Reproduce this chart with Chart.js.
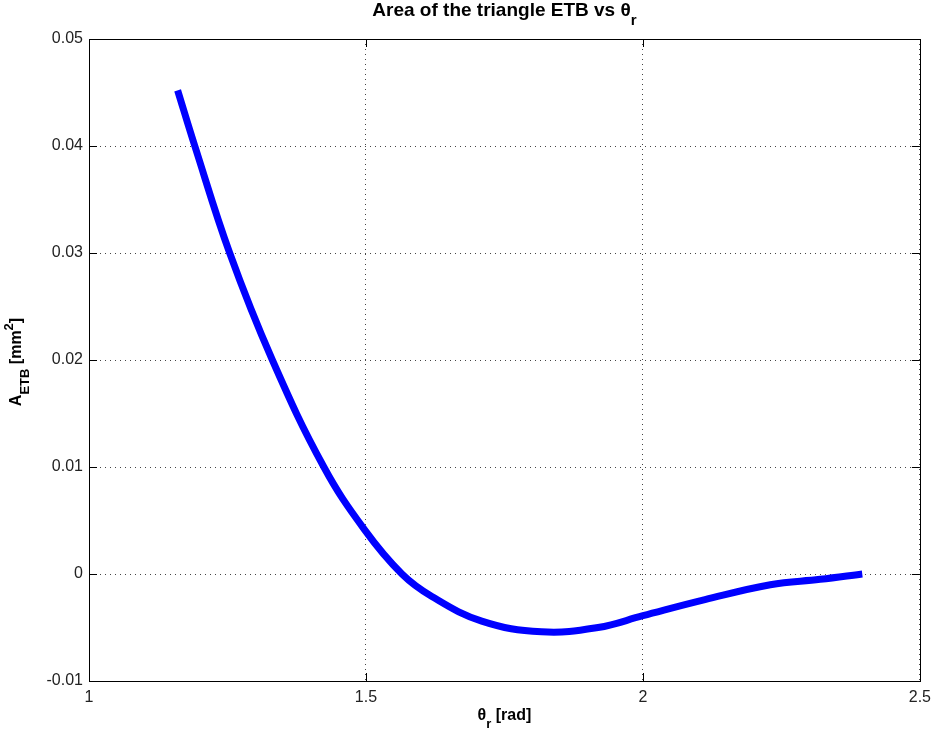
<!DOCTYPE html>
<html>
<head>
<meta charset="utf-8">
<script src="https://cdn.jsdelivr.net/npm/chart.js@4/dist/chart.umd.min.js"></script>
<style>
html,body{margin:0;padding:0;background:#fff;}
#wrap{width:938px;height:740px;}
</style>
</head>
<body>
<div id="wrap"><canvas id="c" width="938" height="740"></canvas></div>
<script>
const thetaR = [1.160, 1.191, 1.254, 1.331, 1.424, 1.498, 1.565, 1.619, 1.709, 1.817, 1.919, 2.000, 2.112, 2.230, 2.320, 2.396];
const areaETB = [0.0452, 0.0400, 0.0300, 0.0200, 0.0100, 0.0041, 0.0000, -0.0021, -0.0044, -0.0054, -0.0050, -0.0039, -0.0024, -0.0010, -0.0005, 0.0000];
const xTicks = [1, 1.5, 2, 2.5];
const yTicks = [-0.01, 0, 0.01, 0.02, 0.03, 0.04, 0.05];
const titleParts = [["Area of the triangle ETB vs \u03b8", 0], ["r", -1]];
const xLabelParts = [["\u03b8", 0], ["r", -1], [" [rad]", 0]];
const yLabelParts = [["A", 0], ["ETB", -1], [" [mm", 0], ["2", 1], ["]", 0]];

const FONT = '"Liberation Sans", Arial, Helvetica, sans-serif';

function drawParts(ctx, parts, size, bold, cx, cy) {
  const f = (s) => (bold ? 'bold ' : '') + s + 'px ' + FONT;
  let total = 0;
  const widths = parts.map(([t, m]) => {
    ctx.font = f(m === 0 ? size : Math.round(size * 0.8));
    const w = ctx.measureText(t).width;
    total += w;
    return w;
  });
  let x = cx - total / 2;
  ctx.textBaseline = 'middle';
  ctx.textAlign = 'left';
  parts.forEach(([t, m], i) => {
    ctx.font = f(m === 0 ? size : Math.round(size * 0.8));
    const dy = m === -1 ? size * 0.5 : (m === 1 ? -size * 0.45 : 0);
    ctx.fillText(t, x, cy + dy);
    x += widths[i];
  });
}

const deco = {
  id: 'deco',
  beforeDatasetsDraw(chart) {
    const {ctx, chartArea: a, scales: {x, y}} = chart;
    ctx.save();
    ctx.strokeStyle = '#000';
    ctx.lineWidth = 1;
    ctx.beginPath();
    xTicks.forEach(v => {
      const px = Math.round(x.getPixelForValue(v)) + 0.5;
      ctx.moveTo(px, a.bottom); ctx.lineTo(px, a.bottom - 8);
      ctx.moveTo(px, a.top); ctx.lineTo(px, a.top + 8);
    });
    yTicks.forEach(v => {
      const py = Math.round(y.getPixelForValue(v)) + 0.5;
      ctx.moveTo(a.left, py); ctx.lineTo(a.left + 8, py);
      ctx.moveTo(a.right, py); ctx.lineTo(a.right - 8, py);
    });
    ctx.stroke();
    ctx.restore();
  },
  afterDraw(chart) {
    const {ctx, chartArea: a} = chart;
    ctx.save();
    ctx.strokeStyle = '#000';
    ctx.lineWidth = 1;
    ctx.strokeRect(Math.round(a.left) + 0.5, Math.round(a.top) + 0.5, Math.round(a.right - a.left), Math.round(a.bottom - a.top));
    ctx.fillStyle = '#000';
    drawParts(ctx, titleParts, 19, true, (a.left + a.right) / 2, 11);
    drawParts(ctx, xLabelParts, 16, true, (a.left + a.right) / 2, 716);
    ctx.translate(17, 362);
    ctx.rotate(-Math.PI / 2);
    drawParts(ctx, yLabelParts, 16, true, 0, 0);
    ctx.restore();
  }
};

new Chart(document.getElementById('c'), {
  type: 'scatter',
  data: {
    datasets: [{
      data: thetaR.map((v, i) => ({x: v, y: areaETB[i]})),
      showLine: true,
      borderColor: '#0000ff',
      backgroundColor: '#0000ff',
      borderWidth: 7,
      pointRadius: 0,
      tension: 0.4,
      fill: false
    }]
  },
  options: {
    responsive: false,
    animation: false,
    devicePixelRatio: 1,
    layout: {padding: {left: 0, right: 15, top: 39, bottom: 0}},
    plugins: {legend: {display: false}, tooltip: {enabled: false}, title: {display: false}},
    scales: {
      x: {
        type: 'linear', min: 1, max: 2.5,
        afterBuildTicks: (s) => { s.ticks = xTicks.map(v => ({value: v})); },
        afterFit: (s) => { s.height = 59; },
        ticks: {
          color: '#222', font: {family: FONT, size: 16}, padding: 7, maxRotation: 0,
          callback: (v) => String(v)
        },
        grid: {color: '#444', lineWidth: 1, tickLength: 0, drawTicks: false},
        border: {display: true, color: '#000', dash: [1, 4], width: 1}
      },
      y: {
        type: 'linear', min: -0.01, max: 0.05,
        afterBuildTicks: (s) => { s.ticks = yTicks.map(v => ({value: v})); },
        afterFit: (s) => { s.width = 89; },
        ticks: {
          color: '#222', font: {family: FONT, size: 16}, padding: 6,
          callback: (v) => String(Math.round(v * 100) / 100)
        },
        grid: {color: '#444', lineWidth: 1, tickLength: 0, drawTicks: false},
        border: {display: true, color: '#000', dash: [1, 4], width: 1}
      }
    }
  },
  plugins: [deco]
});
</script>
</body>
</html>
